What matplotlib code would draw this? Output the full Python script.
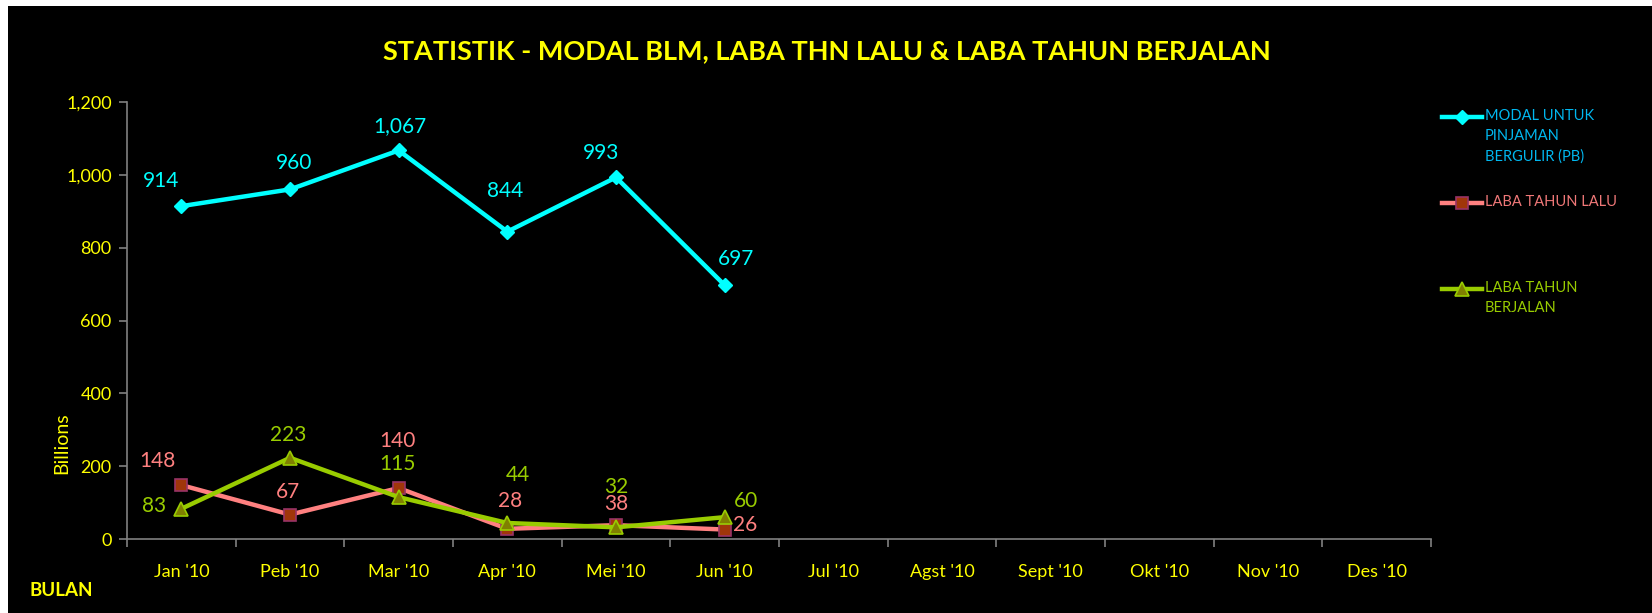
import matplotlib
matplotlib.use("Agg")
import matplotlib.pyplot as plt
from matplotlib.patches import Rectangle
from matplotlib.lines import Line2D
from matplotlib.ticker import FuncFormatter, FixedLocator

plt.rcParams['font.family'] = ['Lato', 'DejaVu Sans']

months = ["Jan '10", "Peb '10", "Mar '10", "Apr '10", "Mei '10", "Jun '10",
          "Jul '10", "Agst '10", "Sept '10", "Okt '10", "Nov '10", "Des '10"]
modal = [914, 960, 1067, 844, 993, 697]
laba_lalu = [148, 67, 140, 28, 38, 26]
laba_berjalan = [83, 223, 115, 44, 32, 60]
series_names = ["MODAL UNTUK\nPINJAMAN\nBERGULIR (PB)", "LABA TAHUN LALU", "LABA TAHUN\nBERJALAN"]
title = "STATISTIK - MODAL BLM, LABA THN LALU & LABA TAHUN BERJALAN"
yticks = [0, 200, 400, 600, 800, 1000, 1200]

# label offsets (pixels) for data labels
off_modal = [(-20, 25), (4, 26), (1, 24), (-2, 41), (-15, 24), (11, 26)]
off_lalu = [(-24, 24), (-2, 23), (-1, 47), (3, 28), (0, 21), (20, 5)]
off_berj = [(-27, 3), (-2, 23), (-1, 33), (11, 48), (0, 40), (21, 16)]

W, H = 1652, 613
fig = plt.figure(figsize=(W / 100, H / 100), dpi=100)
fig.patch.set_facecolor('white')
fig.add_artist(Rectangle((8 / W, 0), 1 - 8 / W, (H - 6) / H, transform=fig.transFigure,
                         facecolor='black', edgecolor='none', zorder=0))

ax = fig.add_axes([127 / W, 1 - 539 / H, (1431 - 127) / W, (539 - 102) / H])
ax.set_facecolor('black')
ax.patch.set_alpha(0)

yellow = '#FFFF00'
styles = [
    dict(color='#00FFFF', lw=3.2, marker='D', ms=7, mfc='#00FFFF', mec='#00FFFF'),
    dict(color='#FF8080', lw=3.2, marker='s', ms=9, mfc='#A0360A', mec='#993366', mew=1.2),
    dict(color='#99CC00', lw=3.2, marker='^', ms=10, mfc='#808000', mec='#99CC00', mew=1.2),
]
label_colors = ['#00FFFF', '#FF8080', '#99CC00']
legend_text_colors = ['#00B8F0', '#F07878', '#99CC00']

xs = [i + 0.5 for i in range(len(months))]
data = [modal, laba_lalu, laba_berjalan]
offs = [off_modal, off_lalu, off_berj]
for k, (vals, st, off) in enumerate(zip(data, styles, offs)):
    x = xs[:len(vals)]
    ax.plot(x, vals, zorder=3 + (1 if k == 0 else 0), **st)
    for xi, v, (dx, dy) in zip(x, vals, off):
        ax.annotate(f"{v:,}", (xi, v), xytext=(dx, dy), textcoords='offset pixels',
                    ha='center', va='center', fontsize=15, color=label_colors[k], zorder=6)

ax.set_xlim(0, 12)
ax.set_ylim(0, 1200)
ax.xaxis.set_major_locator(FixedLocator(xs))
ax.set_xticklabels(months)
ax.xaxis.set_minor_locator(FixedLocator(list(range(13))))
ax.tick_params(axis='x', which='major', length=0, pad=18, labelsize=13, labelcolor=yellow)
ax.tick_params(axis='x', which='minor', length=6, width=1.2, color='#808080')
ax.set_yticks(yticks)
ax.yaxis.set_major_formatter(FuncFormatter(lambda v, p: f"{int(v):,}"))
ax.tick_params(axis='y', length=6, width=1.2, color='#808080', labelsize=13, labelcolor=yellow, pad=5)
for s in ['top', 'right']:
    ax.spines[s].set_visible(False)
for s in ['left', 'bottom']:
    ax.spines[s].set_color('#808080')
    ax.spines[s].set_linewidth(1.2)

fig.text(62 / W, 1 - 443 / H, "Billions", rotation=90, color=yellow, fontsize=14,
         ha='center', va='center')
fig.text(30 / W, 1 - 591 / H, "BULAN", color=yellow, fontsize=13.5, fontweight='bold',
         ha='left', va='center')
fig.text(827 / W, 1 - 51 / H, title, color=yellow, fontsize=19.5, fontweight='bold',
         ha='center', va='center')

# legend
leg_y = [117, 203, 289]
for k, (st, name, yy) in enumerate(zip(styles, series_names, leg_y)):
    fig.add_artist(Line2D([1442 / W, 1482 / W], [1 - yy / H, 1 - yy / H], transform=fig.transFigure,
                          color=st['color'], lw=st['lw'], zorder=5))
    fig.add_artist(Line2D([1462 / W], [1 - yy / H], transform=fig.transFigure, linestyle='none',
                          marker=st['marker'], ms=st['ms'], mfc=st['mfc'], mec=st['mec'],
                          mew=st.get('mew', 1), zorder=6))
    fig.text(1485 / W, 1 - (yy - 8) / H, name, color=legend_text_colors[k], fontsize=10.5,
             ha='left', va='top', linespacing=1.55)

fig.savefig('out.png', dpi=100, facecolor=fig.get_facecolor())
